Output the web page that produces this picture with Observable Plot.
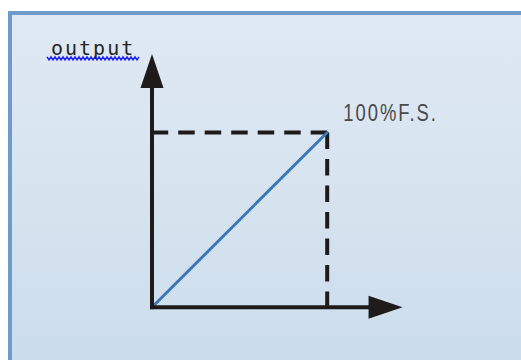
<!DOCTYPE html>
<html>
<head>
<meta charset="utf-8">
<script src="https://cdn.jsdelivr.net/npm/d3@7"></script>
<script src="https://cdn.jsdelivr.net/npm/@observablehq/plot@0.6"></script>
<style>
  html, body { margin: 0; padding: 0; background: #ffffff; overflow: hidden; }
  #wrap { position: relative; width: 521px; height: 360px; overflow: hidden; }
  #box {
    position: absolute; left: 8px; top: 11px; width: 540px; height: 380px;
    border: 4px solid #6f9bca;
    background: linear-gradient(to bottom, #dfe9f3 0%, #d6e3ef 50%, #c9dbec 100%);
  }
  #chart { position: absolute; left: 0; top: 0; }
</style>
</head>
<body>
<div id="wrap"><div id="box"></div><div id="chart"></div></div>
<script>
// Values (percent of full scale)
const fullScale = [100];          // input and output at full scale
const responseX = [0, 100];       // linear response, input
const responseY = [0, 100];       // linear response, output
const xAxisEnd = [143];           // tip of the input arrow
const yAxisEnd = [145];           // tip of the output arrow
const labels = ["output", "100%F.S."];

const ink = "#1f1b1b";
const arrowHead = {
  draw(ctx) {
    ctx.moveTo(0, 0);
    ctx.lineTo(-11.5, 34);
    ctx.lineTo(11.5, 34);
    ctx.closePath();
  }
};
// spell-check style squiggle under the "output" label (a shape, relative to the arrow tip)
const squiggle = {
  draw(ctx) {
    const x0 = -105, x1 = -12, y0 = 3, y1 = 6, step = 2;
    ctx.moveTo(x0, y0);
    let up = false;
    for (let x = x0 + step; x <= x1; x += step) {
      ctx.lineTo(x, up ? y0 : y1);
      up = !up;
    }
  }
};

const response = responseX.map((x, i) => ({x, y: responseY[i]}));

const chart = Plot.plot({
  width: 521,
  height: 360,
  margin: 0,
  style: {background: "transparent", overflow: "visible"},
  x: {type: "linear", domain: [0, 100], range: [151.5, 326.7], axis: null},
  y: {type: "linear", domain: [0, 100], range: [306.7, 132], axis: null},
  marks: [
    // dashed full-scale guides, drawn from the corner outward
    Plot.link(fullScale, {x1: d => d, y1: d => d, x2: 0, y2: d => d,
      stroke: ink, strokeWidth: 4, strokeDasharray: "16.5,10"}),
    Plot.link(fullScale, {x1: d => d, y1: d => d, x2: d => d, y2: 0,
      stroke: ink, strokeWidth: 4, strokeDasharray: "16.5,10"}),
    // response line
    Plot.line(response, {x: "x", y: "y", stroke: "#3a79b6", strokeWidth: 3}),
    // axes
    Plot.link(xAxisEnd, {x1: 0, y1: 0, x2: d => d - 8, y2: 0, stroke: ink, strokeWidth: 4, strokeLinecap: "square"}),
    Plot.link(yAxisEnd, {x1: 0, y1: 0, x2: 0, y2: d => d - 8, stroke: ink, strokeWidth: 4, strokeLinecap: "square"}),
    Plot.dot(xAxisEnd, {x: d => d, y: 0, symbol: arrowHead, fill: ink, stroke: "none", rotate: 90}),
    Plot.dot(yAxisEnd, {x: 0, y: d => d, symbol: arrowHead, fill: ink, stroke: "none"}),
    // labels
    Plot.dot(yAxisEnd, {x: 0, y: d => d, symbol: squiggle, fill: "none", stroke: "#2424f0", strokeWidth: 1.5}),
    Plot.text([labels[0]], {x: 0, y: yAxisEnd[0], text: d => d, textAnchor: "start", lineAnchor: "bottom",
      dx: -101, dy: 1.5, fill: "#262626", fontSize: 20,
      fontFamily: "'DejaVu Sans Mono', 'Liberation Mono', monospace"}),
    Plot.text([labels[1]], {x: fullScale[0], y: fullScale[0], text: d => d, textAnchor: "start", lineAnchor: "bottom",
      dx: 16, dy: -12, fill: "#4a4a4a", fontSize: 23,
      fontFamily: "'Liberation Sans', sans-serif"})
  ]
});

d3.select(chart).selectAll("text").each(function() {
  const t = this.textContent;
  if (t === labels[0]) d3.select(this).style("letter-spacing", "2px");
  else if (t === labels[1]) {
    const tr = this.getAttribute("transform");
    d3.select(this).style("letter-spacing", "2.5px");
    if (tr) this.setAttribute("transform", tr + " scale(0.8,1)");
  }
});

document.getElementById("chart").appendChild(chart);
</script>
</body>
</html>
